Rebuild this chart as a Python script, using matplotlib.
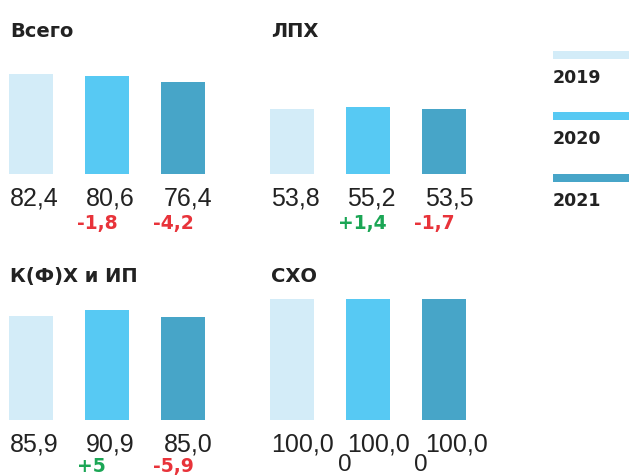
import matplotlib
matplotlib.use("Agg")
import matplotlib.pyplot as plt

plt.rcParams["font.family"] = ["Liberation Sans", "DejaVu Sans"]

W, H = 629, 477
DPI = 100

years = ["2019", "2020", "2021"]
colors = ["#d3ecf8", "#57c9f3", "#47a5c8"]

titles = ["Всего", "ЛПХ", "К(Ф)Х и ИП", "СХО"]
values = [
    [82.4, 80.6, 76.4],
    [53.8, 55.2, 53.5],
    [85.9, 90.9, 85.0],
    [100.0, 100.0, 100.0],
]
value_labels = [
    ["82,4", "80,6", "76,4"],
    ["53,8", "55,2", "53,5"],
    ["85,9", "90,9", "85,0"],
    ["100,0", "100,0", "100,0"],
]
delta_labels = [
    ["", "-1,8", "-4,2"],
    ["", "+1,4", "-1,7"],
    ["", "+5", "-5,9"],
    ["", "0", "0"],
]

RED = "#e8333a"
GREEN = "#1ba655"
TEXT = "#222222"
BOLD = "DejaVu Sans"

# pixel layout: (first bar centre x, bar baseline y from top)
panel_pos = [(31, 175), (292, 175), (31, 421), (292, 421)]
STEP = 76      # px between bar centres
BAR_W = 44 / STEP
SCALE_H = 121  # px for value 100

fig = plt.figure(figsize=(W / DPI, H / DPI), dpi=DPI)

for k in range(4):
    cx, base = panel_pos[k]
    top_row = base == 175
    left = cx - 0.4 * STEP
    ax = fig.add_axes([left / W, (H - base) / H, 3 * STEP / W, SCALE_H / H])
    ax.set_xlim(-0.4, 2.6)
    ax.set_ylim(0, 100)
    ax.axis("off")
    xs = range(3)
    ax.bar(xs, values[k], width=BAR_W, color=colors)
    for i in xs:
        ax.annotate(value_labels[k][i], xy=(i - BAR_W / 2, 0), xycoords="data",
                    xytext=(1 + (2 if i == 2 else 0), -31), textcoords="offset pixels",
                    ha="left", va="baseline", fontsize=18, color=TEXT,
                    annotation_clip=False)
        d = delta_labels[k][i]
        if not d:
            continue
        if d[0] in "+-":
            ax.annotate(d, xy=(i - BAR_W / 2, 0), xycoords="data",
                        xytext=(-8, -54 if top_row else -51), textcoords="offset pixels",
                        ha="left", va="baseline", fontsize=13.5, fontweight="bold",
                        family=BOLD, color=GREEN if d[0] == "+" else RED,
                        annotation_clip=False)
        else:
            # zero change, shown plain
            ax.annotate(d, xy=(i - BAR_W / 2, 0), xycoords="data",
                        xytext=(-8, -50), textcoords="offset pixels",
                        ha="left", va="baseline", fontsize=17.5, color=TEXT,
                        annotation_clip=False)
    title_base = 37 if top_row else 282
    fig.text((cx - 21) / W, (H - title_base) / H, titles[k], ha="left",
             va="baseline", fontsize=14, fontweight="bold", family=BOLD, color=TEXT)

# legend
lx0, ly_top, ly_bot = 553, 40, 215
lax = fig.add_axes([lx0 / W, (H - ly_bot) / H, (W - lx0) / W, (ly_bot - ly_top) / H])
lax.set_xlim(0, W - lx0)
lax.set_ylim(ly_bot, ly_top)
lax.axis("off")
leg_y = [56, 117, 179]
lax.barh(leg_y, [W - lx0] * 3, height=8, left=0, color=colors)
for y, yr in zip(leg_y, years):
    lax.text(0, y + 27, yr, ha="left", va="baseline", fontsize=12.5,
             fontweight="bold", family=BOLD, color=TEXT)

fig.savefig("out.png", dpi=DPI)
